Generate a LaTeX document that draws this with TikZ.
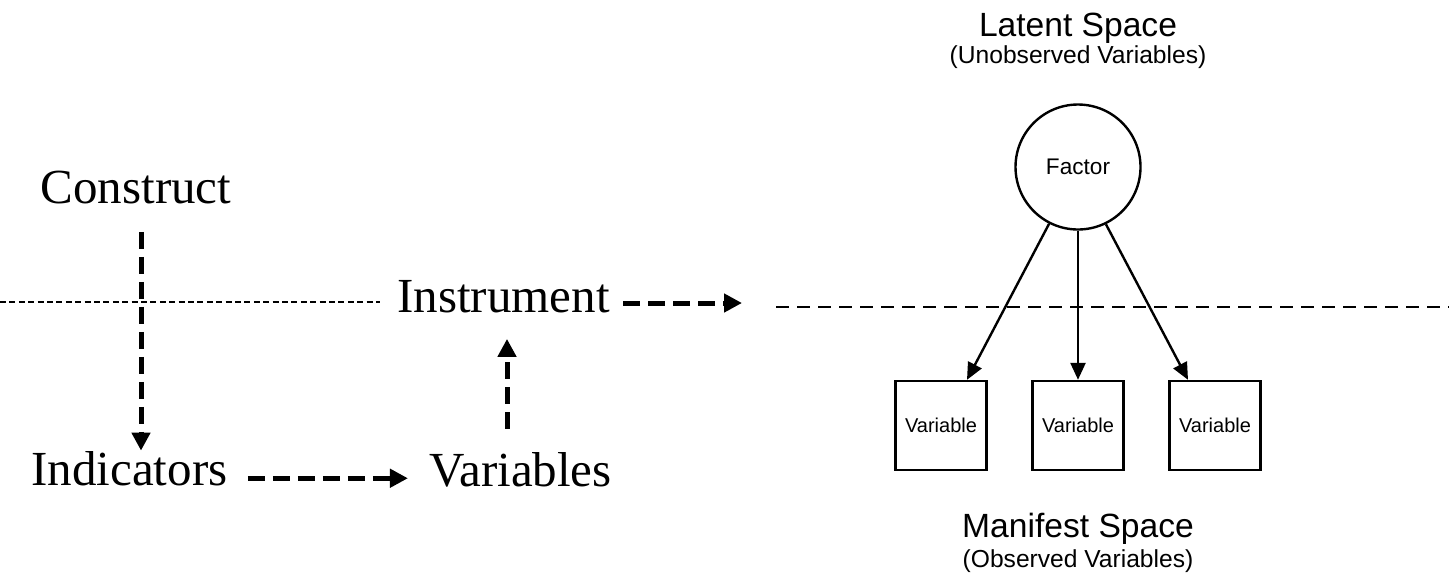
\documentclass[tikz,border=0pt]{standalone}
\usepackage{fontspec}
\setmainfont{Liberation Serif}
\newfontfamily\arialfont{Liberation Sans}
\usepackage{tikz}
\usetikzlibrary{calc,arrows.meta,positioning}

\begin{document}
\begin{tikzpicture}[x=0.5pt,y=-0.5pt,
            term/.style={font=\fontsize{24.5}{28}\selectfont, anchor=base},
            thickdash/.style={line width=2.5pt, dash pattern=on 8.5pt off 4pt,
                -{Triangle[length=9pt,width=9pt]}},
            spacehead/.style={font=\arialfont\fontsize{16.8}{19}\selectfont, anchor=base},
            spacesub/.style={font=\arialfont\fontsize{12.3}{14}\selectfont, anchor=base},
            varbox/.style={draw, line width=1.2pt, minimum width=45.5pt, minimum height=44.5pt,
                font=\arialfont\fontsize{10}{12}\selectfont},
            loading/.style={line width=1.2pt, -{Triangle[length=8.5pt,width=7.5pt]}}]
            \tikzstyle{every node}+=[inner sep=0pt]
            \useasboundingbox (0,0) rectangle (1449,585);
            % left: construct to instrument
            \node[term] (construct) at (136,203) {Construct};
            \node[term] (instrument) at (503.5,312) {Instrument};
            \node[term] (indicators) at (129.5,485) {Indicators};
            \node[term] (variables) at (520.5,486) {Variables};
            \coordinate (leftedge) at (0,302);
            \coordinate (instrend) at (742,303);
            \draw [line width=0.8pt, dash pattern=on 3pt off 1.7pt, shorten >=8.5pt]
                (leftedge) -- (leftedge -| instrument.west);
            \draw [thickdash, shorten <=14pt] ([xshift=2.5pt]construct.south)
                -- ([xshift=2.5pt]construct.south |- indicators.north);
            \draw [thickdash, shorten <=10pt, shorten >=10.5pt] ([yshift=-5pt]indicators.east)
                -- ([yshift=-5pt]indicators.east -| variables.west);
            \draw [thickdash, shorten <=11.5pt, shorten >=13pt] ([xshift=-6.75pt]variables.north)
                -- ([xshift=-6.75pt]variables.north |- instrument.south);
            \draw [thickdash, shorten <=6.5pt] (instrument.east |- instrend) -- (instrend);
            % right: latent and manifest space
            \node[spacehead] (latent) at (1078,36) {Latent Space};
            \node[spacesub] (unobs) at (1078,63) {(Unobserved Variables)};
            \node[draw, circle, line width=1.2pt, minimum size=62.5pt,
                font=\arialfont\fontsize{11.3}{13}\selectfont] (factor) at (1078,167) {Factor};
            \node[varbox] (v1) at (941,425.5) {Variable};
            \node[varbox] (v2) at (1078,425.5) {Variable};
            \node[varbox] (v3) at (1215,425.5) {Variable};
            \coordinate (divleft) at (776,307);
            \coordinate (divright) at (1449,307);
            \draw [line width=1.1pt, dash pattern=on 6.5pt off 4pt] (divleft) -- (divright);
            \draw [loading] (factor.243.4) -- ([xshift=13pt]v1.north);
            \draw [loading] (factor.south) -- (v2.north);
            \draw [loading] (factor.296.6) -- ([xshift=-13.5pt]v3.north);
            \node[spacehead] (manifest) at (1078,537) {Manifest Space};
            \node[spacesub] (obs) at (1078,567) {(Observed Variables)};
\end{tikzpicture}
\end{document}
